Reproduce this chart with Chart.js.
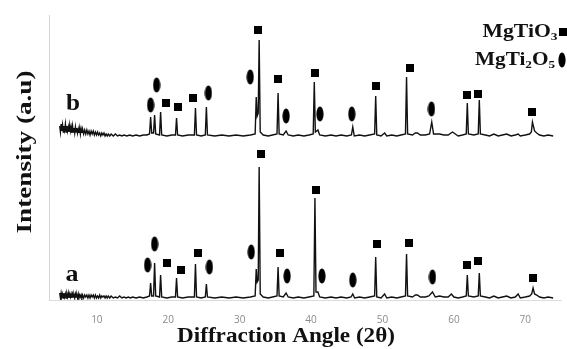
<!DOCTYPE html>
<html>
<head>
<meta charset="utf-8">
<script src="https://cdn.jsdelivr.net/npm/chart.js@4/dist/chart.umd.min.js"></script>
<style>
  body { margin: 0; background: #fff; }
  canvas { display: block; }
</style>
</head>
<body>
<canvas id="xrd" width="567" height="349"></canvas>
<script>
// XRD patterns, [2theta, intensity above own baseline]
var patternA = [
  [4.8,7],[4.9,2],[5.0,7],[5.1,3],[5.2,6],[5.3,2],[5.4,7],[5.5,3],[5.6,6],[5.7,2],[5.8,6],[5.9,3],
  [6.0,7],[6.1,2],[6.2,6],[6.3,3],[6.4,6],[6.5,2],[6.6,6],[6.7,3],[6.8,5],[6.9,2],[7.0,6],[7.1,3],
  [7.2,5],[7.3,2],[7.4,6],[7.5,2],[7.6,5],[7.7,3],[7.8,5],[7.9,2],[8.0,5],[8.15,2],[8.3,5],[8.45,3],
  [8.6,5],[8.75,2],[8.9,5],[9.05,2],[9.2,5],[9.35,3],[9.5,5],[9.65,2],[9.8,5],[9.95,2],[10.1,4],
  [10.25,2],[10.4,5],[10.55,2],[10.7,4],[10.85,3],[11.0,4],[11.15,2],[11.3,4],[11.45,2],[11.6,4],
  [11.8,2],[12.0,4],[12.3,2],[12.6,3],[12.9,2],[13.2,4],[13.5,2],[13.8,3],[14.1,2],[14.4,3],[14.7,2],
  [15.0,3],[15.5,2],[16.0,3],[16.5,2],[17.0,3],[17.38,4],[17.53,17],[17.68,4],[17.94,4],[18.09,37],
  [18.24,4],[18.78,3],[18.93,25],[19.08,3],[19.8,2],[20.5,3],[21.01,3],[21.16,22],[21.31,3],[22.0,2],
  [22.8,3],[23.66,3],[23.81,36],[23.96,3],[24.6,2],[25.19,3],[25.34,16],[25.49,3],[26.5,2],[27.5,3],
  [28.5,2],[29.5,3],[30.5,2],[31.5,3],[32.17,4],[32.32,31],[32.45,18],[32.6,20],[32.73,133],[32.88,6],
  [33.3,3],[34.0,2],[34.6,3],[35.23,4],[35.38,33],[35.53,4],[36.1,3],[36.5,7],[36.8,3],[37.5,2],
  [38.2,3],[39.0,2],[39.7,3],[40.39,4],[40.54,102],[40.69,8],[40.96,8],[41.2,3],[42.0,2],[42.8,3],
  [43.5,2],[44.2,3],[45.0,2],[45.6,3],[45.84,6],[46.1,2],[46.8,3],[47.5,2],[48.2,3],[48.9,4],
  [49.05,43],[49.2,3],[49.8,2],[50.3,6],[50.6,2],[51.3,3],[52.0,2],[52.6,3],[53.22,4],[53.37,46],
  [53.52,4],[54.2,3],[54.6,5],[54.9,5],[55.3,3],[56.0,3],[56.5,4],[57.0,8],[57.4,3],[58.0,4],
  [58.6,3],[59.2,3],[59.65,6],[60.0,3],[60.6,2],[61.2,3],[61.73,4],[61.88,25],[62.03,4],[62.8,3],
  [63.41,4],[63.56,27],[63.71,4],[64.4,3],[65.0,2],[65.6,4],[66.2,2],[66.8,3],[67.4,4],[68.0,2],
  [68.6,3],[69.0,6],[69.3,2],[70.0,3],[70.6,4],[70.9,6],[71.09,12],[71.3,6],[71.6,5],[72.0,3],
  [72.6,2],[73.2,3],[73.9,2]
];
var patternB = [
  [4.8,12],[4.9,6],[5.0,14],[5.1,7],[5.2,13],[5.3,6],[5.4,12],[5.5,8],[5.6,14],[5.7,6],[5.8,12],
  [5.9,7],[6.0,11],[6.1,6],[6.2,13],[6.3,7],[6.4,11],[6.5,5],[6.6,12],[6.7,6],[6.8,10],[6.9,5],
  [7.0,11],[7.1,6],[7.2,10],[7.3,5],[7.4,9],[7.5,5],[7.6,10],[7.7,4],[7.8,9],[7.9,5],[8.0,9],
  [8.15,4],[8.3,8],[8.45,4],[8.6,8],[8.75,4],[8.9,7],[9.05,3],[9.2,7],[9.35,4],[9.5,7],[9.65,3],
  [9.8,6],[9.95,3],[10.1,6],[10.25,3],[10.4,5],[10.55,2],[10.7,5],[10.85,3],[11.0,5],[11.15,2],
  [11.3,4],[11.45,2],[11.6,4],[11.8,2],[12.0,4],[12.3,2],[12.6,4],[12.9,2],[13.2,3],[13.5,2],
  [13.8,3],[14.2,2],[14.6,3],[15.0,2],[15.5,3],[16.0,2],[16.5,3],[17.0,3],[17.38,4],[17.53,21],
  [17.68,5],[17.94,5],[18.09,23],[18.24,4],[18.78,3],[18.93,26],[19.08,3],[19.8,2],[20.5,3],[21.01,3],
  [21.16,20],[21.31,3],[22.0,2],[22.8,3],[23.66,3],[23.81,30],[23.96,3],[24.6,2],[25.19,3],[25.34,31],
  [25.49,3],[26.5,2],[27.5,3],[28.5,2],[29.5,3],[30.5,2],[31.5,3],[32.17,4],[32.32,41],[32.45,22],
  [32.6,25],[32.73,98],[32.88,6],[33.3,3],[34.0,2],[34.6,3],[35.23,4],[35.38,45],[35.53,4],[36.1,3],
  [36.5,7],[36.8,3],[37.5,2],[38.2,3],[39.0,2],[39.7,3],[40.3,4],[40.45,56],[40.6,6],[40.96,8],
  [41.2,3],[42.0,2],[42.8,3],[43.5,2],[44.2,3],[45.0,2],[45.65,3],[45.84,11],[46.05,2],[46.8,3],
  [47.5,2],[48.2,3],[48.9,4],[49.05,42],[49.2,3],[49.8,2],[50.3,5],[50.6,2],[51.3,3],[52.0,2],
  [52.6,3],[53.22,4],[53.37,61],[53.52,4],[54.2,3],[54.6,5],[54.9,5],[55.3,3],[56.0,3],[56.6,4],
  [56.9,16],[57.15,4],[58.0,4],[58.6,3],[59.2,3],[59.8,6],[60.2,4],[60.6,2],[61.2,3],[61.73,4],
  [61.88,35],[62.03,4],[62.8,3],[63.41,4],[63.56,38],[63.71,4],[64.4,3],[65.0,2],[65.6,4],[66.2,2],
  [66.8,3],[67.4,4],[68.0,2],[68.6,3],[69.0,4],[69.3,2],[70.0,3],[70.6,4],[70.85,6],[71.0,16],
  [71.3,7],[71.6,5],[72.0,3],[72.6,2],[73.2,3],[73.9,2]
];

// phase markers: angle + height above the pattern's baseline
var squareAnglesA = [19.76, 21.72, 24.23, 33.01, 35.66, 40.68, 49.19, 53.65, 61.88, 63.42, 71.09];
var squareLevelsA = [37, 30, 47, 146, 47, 110, 56, 57, 35, 39, 22];
var ovalAnglesA = [17.11, 18.09, 25.76, 31.62, 36.64, 41.52, 45.84, 57.0];
var ovalLevelsA = [35, 56, 33, 48, 24, 24, 20, 23];

var squareAnglesB = [19.62, 21.30, 23.53, 32.59, 35.38, 40.54, 49.05, 53.79, 61.88, 63.42, 70.95];
var squareLevelsB = [35, 31, 40, 108, 59, 65, 52, 70, 43, 44, 26];
var ovalAnglesB = [17.53, 18.37, 25.62, 31.48, 36.50, 41.24, 45.70, 56.86];
var ovalLevelsB = [33, 53, 45, 61, 22, 24, 24, 29];

var xTicks = [10, 20, 30, 40, 50, 60, 70];
var offsetB = 162; // vertical stacking of pattern b

function makeSquare() {
  var c = document.createElement('canvas');
  c.width = 8; c.height = 8;
  var g = c.getContext('2d');
  g.fillStyle = '#000';
  g.fillRect(0, 0, 8, 8);
  return c;
}
function makeOval() {
  var c = document.createElement('canvas');
  c.width = 8; c.height = 16;
  var g = c.getContext('2d');
  g.fillStyle = '#000';
  g.beginPath();
  g.ellipse(4, 8, 3.6, 7.6, 0, 0, Math.PI * 2);
  g.fill();
  return c;
}
var squareImg = makeSquare();
var ovalImg = makeOval();

function toPoints(arr, off) {
  return arr.map(function(p) { return { x: p[0], y: p[1] + off }; });
}
function markerPoints(angles, levels, off) {
  return angles.map(function(a, i) { return { x: a, y: levels[i] + off }; });
}

function lineSet(data) {
  return {
    type: 'line', data: data, borderColor: '#111', borderWidth: 1.4,
    pointRadius: 0, tension: 0, fill: false
  };
}
function markSet(data, img) {
  return {
    type: 'scatter', data: data, pointStyle: img, pointRadius: 5,
    backgroundColor: '#000', borderColor: '#000', clip: false
  };
}

// draw text squeezed/stretched to a target width (parts: [text, isSub])
function drawFit(ctx, parts, x, y, size, targetW, rotate) {
  ctx.save();
  var widths = [];
  var natural = 0;
  parts.forEach(function(p) {
    ctx.font = 'bold ' + (p[1] ? size * 0.62 : size) + 'px "Liberation Serif", serif';
    var w = ctx.measureText(p[0]).width;
    widths.push(w);
    natural += w;
  });
  ctx.translate(x, y);
  if (rotate) ctx.rotate(-Math.PI / 2);
  ctx.scale(targetW / natural, 1);
  ctx.fillStyle = '#111';
  ctx.textBaseline = 'middle';
  ctx.textAlign = 'left';
  var cx = -natural / 2;
  parts.forEach(function(p, i) {
    ctx.font = 'bold ' + (p[1] ? size * 0.62 : size) + 'px "Liberation Serif", serif';
    ctx.fillText(p[0], cx, p[1] ? size * 0.28 : 0);
    cx += widths[i];
  });
  ctx.restore();
}

var labelsPlugin = {
  id: 'labels',
  afterDraw: function(chart) {
    var ctx = chart.ctx;
    drawFit(ctx, [['Intensity (a.u)', false]], 25, 152, 22, 163, true);
    drawFit(ctx, [['Diffraction Angle (2\u03b8)', false]], 286, 337, 21, 218, false);
    drawFit(ctx, [['b', false]], 73, 104, 24, 14, false);
    drawFit(ctx, [['a', false]], 72, 275, 24, 13, false);
    drawFit(ctx, [['MgTiO', false], ['3', true]], 520, 32, 18, 75, false);
    drawFit(ctx, [['MgTi', false], ['2', true], ['O', false], ['5', true]], 515, 60, 18, 80, false);
    ctx.drawImage(squareImg, 559, 28);
    ctx.drawImage(ovalImg, 558, 52);
  }
};

new Chart(document.getElementById('xrd'), {
  data: {
    datasets: [
      lineSet(toPoints(patternA, 0)),
      lineSet(toPoints(patternB, offsetB)),
      markSet(markerPoints(squareAnglesA, squareLevelsA, 0), squareImg),
      markSet(markerPoints(ovalAnglesA, ovalLevelsA, 0), ovalImg),
      markSet(markerPoints(squareAnglesB, squareLevelsB, offsetB), squareImg),
      markSet(markerPoints(ovalAnglesB, ovalLevelsB, offsetB), ovalImg)
    ]
  },
  options: {
    responsive: false,
    animation: false,
    devicePixelRatio: 1,
    layout: { padding: { top: 15, right: 4, left: 0, bottom: 0 } },
    plugins: { legend: { display: false }, tooltip: { enabled: false } },
    scales: {
      x: {
        type: 'linear', min: 3.3, max: 75,
        grid: { display: false },
        border: { color: '#dcdcdc', width: 1 },
        afterBuildTicks: function(s) { s.ticks = xTicks.map(function(v) { return { value: v }; }); },
        afterFit: function(s) { s.height = 49; },
        ticks: { color: '#8a8a8a', padding: 6, font: { family: 'Open Sans', size: 10 } }
      },
      y: {
        type: 'linear', min: 0, max: 285,
        grid: { display: false },
        border: { color: '#d4d4d4', width: 1 },
        ticks: { display: false },
        afterFit: function(s) { s.width = 49; }
      }
    }
  },
  plugins: [labelsPlugin]
});
</script>
</body>
</html>
